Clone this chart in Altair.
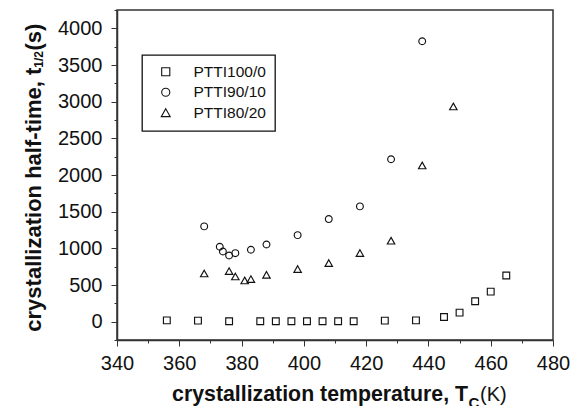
import altair as alt
import pandas as pd

# ---- data ----
series_names = ["PTTI100/0", "PTTI90/10", "PTTI80/20"]
shapes = ["square", "circle", "M0,-1.0L1.1,0.95L-1.1,0.95Z"]

temp_100 = [356, 366, 376, 386, 391, 396, 401, 406, 411, 416, 426, 436, 445, 450, 455, 460, 465]
half_100 = [18, 14, 5, 5, 5, 5, 5, 5, 5, 5, 14, 18, 64, 123, 278, 410, 630]

temp_90 = [368, 373, 374, 376, 378, 383, 388, 398, 408, 418, 428, 438]
half_90 = [1299, 1021, 957, 902, 934, 980, 1053, 1180, 1399, 1572, 2215, 3824]

temp_80 = [368, 376, 378, 381, 383, 388, 398, 408, 418, 428, 438, 448]
half_80 = [656, 688, 615, 561, 579, 638, 716, 798, 934, 1103, 2129, 2934]

x_ticks = list(range(340, 481, 10))
y_ticks = list(range(-250, 4251, 250))

df = pd.concat([
    pd.DataFrame({"T": temp_100, "t": half_100, "series": series_names[0]}),
    pd.DataFrame({"T": temp_90, "t": half_90, "series": series_names[1]}),
    pd.DataFrame({"T": temp_80, "t": half_80, "series": series_names[2]}),
], ignore_index=True)

FONT = "Liberation Sans"
INK = "#111111"

points = alt.Chart(df).mark_point(
    filled=False, color=INK, strokeWidth=1.15, opacity=1, size=46
).encode(
    x=alt.X("T:Q",
            scale=alt.Scale(domain=[340, 480], nice=False, zero=False),
            axis=alt.Axis(values=x_ticks, title=None, grid=False,
                          labelExpr="datum.value % 20 === 0 ? datum.label : ''",
                          tickSize={"condition": {"test": "datum.value % 20 === 0", "value": 6}, "value": 3},
                          labelPadding=7, labelFlush=False, labelOverlap=False)),
    y=alt.Y("t:Q",
            scale=alt.Scale(domain=[-250, 4250], nice=False, zero=False),
            axis=alt.Axis(values=y_ticks, title=None, grid=False,
                          labelExpr="datum.value % 500 === 0 ? datum.label : ''",
                          tickSize={"condition": {"test": "datum.value % 500 === 0", "value": 6}, "value": 3},
                          labelPadding=9, labelFlush=False, labelOverlap=False, format="d")),
    shape=alt.Shape("series:N",
                    scale=alt.Scale(domain=series_names, range=shapes),
                    legend=alt.Legend(title=None, orient="none", legendX=25, legendY=45,
                                      fillColor="white", strokeColor=INK,
                                      padding=9, symbolOffset=7, labelOffset=20,
                                      symbolSize=66, symbolStrokeColor=INK,
                                      symbolFillColor="transparent", symbolStrokeWidth=1.1,
                                      labelFont=FONT, labelFontSize=15.5, labelColor=INK,
                                      rowPadding=3.5)),
)


def label(text, x, y, size, weight="bold", angle=0, align="left"):
    return alt.Chart(pd.DataFrame({"s": [text]})).mark_text(
        font=FONT, fontSize=size, fontWeight=weight, color=INK,
        align=align, baseline="alphabetic", angle=angle
    ).encode(x=alt.value(x), y=alt.value(y), text="s:N")


x_title = [
    label("crystallization temperature, T", 351, 391, 21.3, align="right"),
    label("C", 351.5, 398, 15),
    label("(K)", 363, 391, 20, weight="normal"),
]
y_title = [
    label("crystallization half-time, t", -76.5, 321.7, 22, angle=270),
    label("1/2", -74.5, 57.7, 12, angle=270),
    label("(s)", -76.5, 40.5, 22, angle=270),
]

chart = alt.layer(points, *x_title, *y_title).properties(
    width=436, height=330,
    padding={"left": 109, "top": 2, "right": 19, "bottom": 70},
    autosize=alt.AutoSizeParams(type="none"),
).configure_view(
    stroke="#333333", strokeWidth=1.5
).configure_axis(
    domainColor="#333333", domainWidth=1.5, tickColor="#333333", tickWidth=1,
    labelFont=FONT, labelFontSize=20, labelColor=INK
).configure_legend(
    strokeWidth=1.3
)

chart.save("out.html", embed_options={"renderer": "svg", "actions": False})
